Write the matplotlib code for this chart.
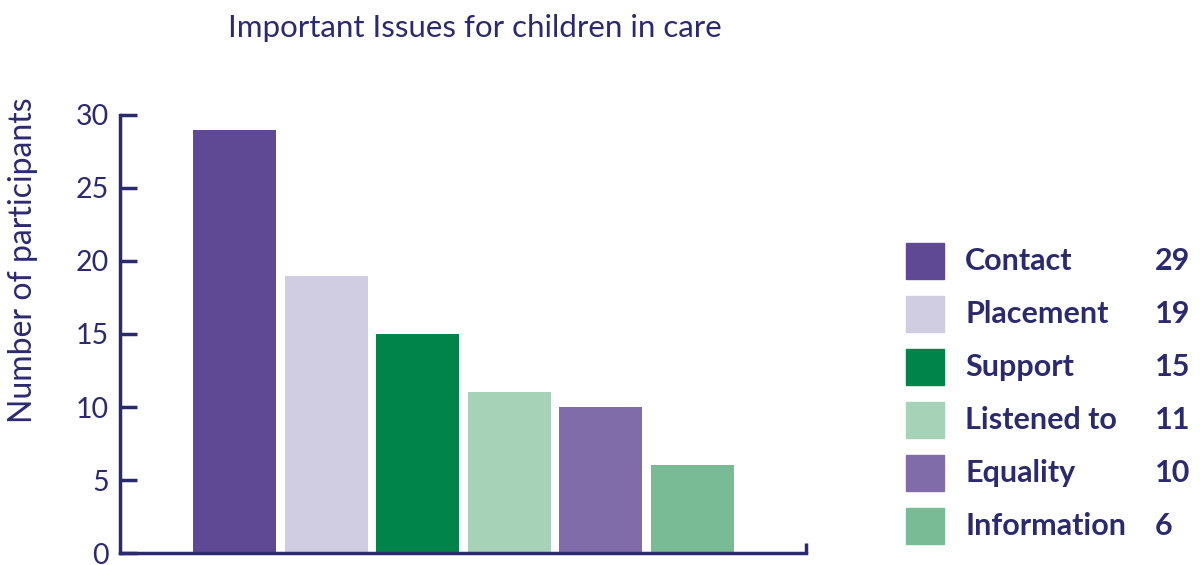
import matplotlib.pyplot as plt
from matplotlib.patches import Rectangle

# данные
categories = ['Contact', 'Placement', 'Support', 'Listened to', 'Equality', 'Information']
values = [29, 19, 15, 11, 10, 6]
colors = ['#5f4994', '#d0cce2', '#00844a', '#a6d3b8', '#806ca9', '#79bb94']
yticks = [0, 5, 10, 15, 20, 25, 30]

navy = '#2c2a6e'
plt.rcParams['font.family'] = ['Lato', 'DejaVu Sans']

fig = plt.figure(figsize=(12, 5.65), dpi=100)
ax = fig.add_axes([0.1, 0.0212, 0.5717, 0.7753])

x = list(range(len(values)))
ax.bar(x, values, width=0.906, color=colors)

ax.set_xlim(-1.25, 6.24)
ax.set_ylim(0, 30)
ax.set_yticks(yticks)
ax.set_yticklabels([str(t) for t in yticks], fontsize=20.5, color=navy)
ax.tick_params(axis='y', direction='in', length=12, width=2.5, color=navy, pad=8)
ax.set_xticks([])

ax.spines['top'].set_visible(False)
ax.spines['right'].set_visible(False)
for s in ['left', 'bottom']:
    ax.spines[s].set_color(navy)
    ax.spines[s].set_linewidth(2.5)
# маленький штрих в правом конце оси x
ax.plot([6.24, 6.24], [0, 0.7], color=navy, lw=2.5, clip_on=False, solid_capstyle='butt')

ax.set_ylabel('Number of participants', fontsize=23, color=navy)
ax.yaxis.set_label_coords(-0.12, 0.669)
fig.text(0.396, 0.95, 'Important Issues for children in care', fontsize=22.5,
         color=navy, ha='center', va='center')

# легенда вручную
row_h = 53 / 565
y0 = 1 - 261 / 565
for i, (cat, val, col) in enumerate(zip(categories, values, colors)):
    yc = y0 - i * row_h
    fig.patches.append(Rectangle((906 / 1200, yc - 18 / 565), 38 / 1200, 36 / 565,
                                 color=col, transform=fig.transFigure, figure=fig))
    fig.text(965 / 1200, yc, cat, fontsize=22, fontweight='bold', color=navy, va='center')
    fig.text(1155 / 1200, yc, str(val), fontsize=22, fontweight='bold', color=navy, va='center')

fig.savefig('out.png', dpi=100)
